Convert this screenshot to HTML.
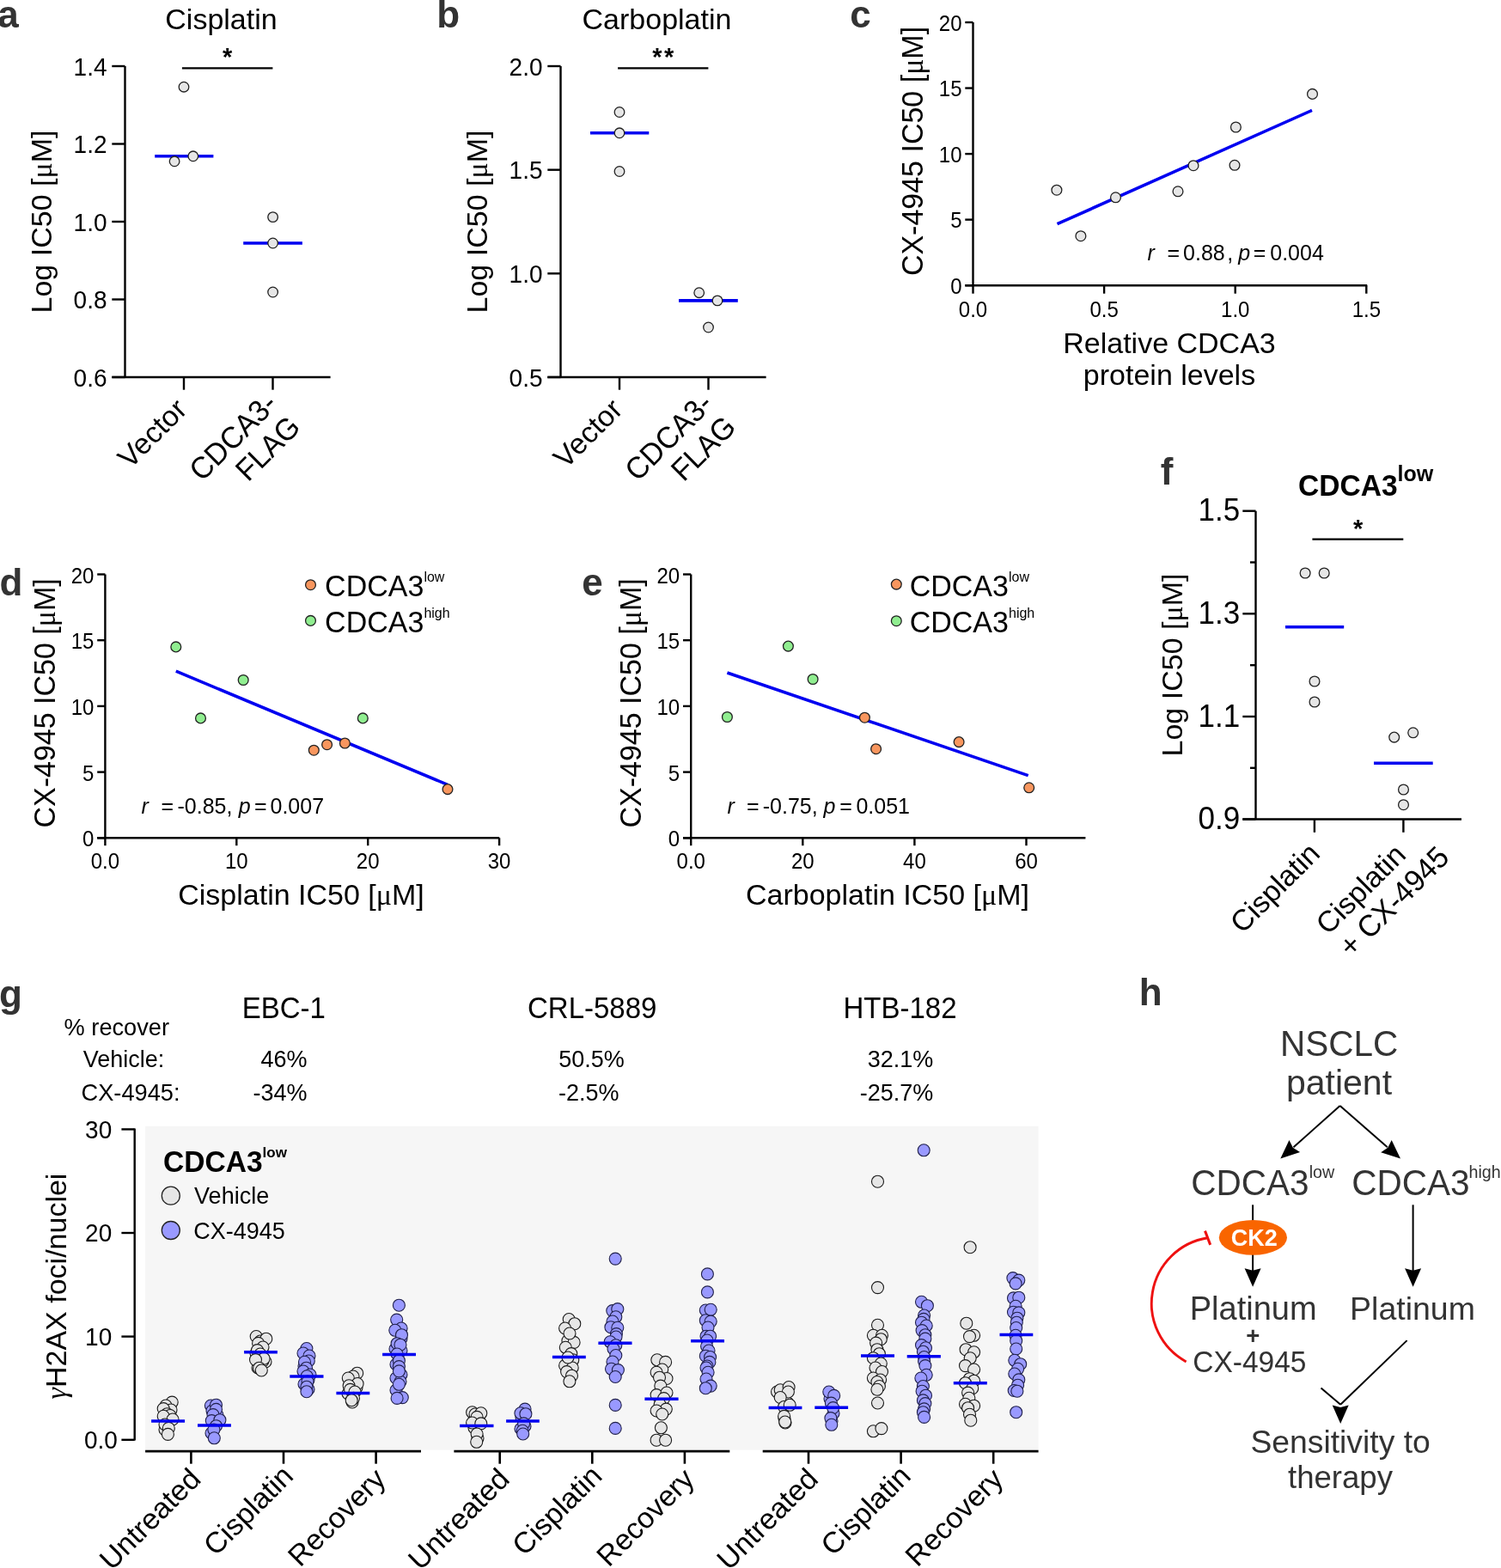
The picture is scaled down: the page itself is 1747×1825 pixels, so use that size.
<!DOCTYPE html>
<html><head><meta charset="utf-8"><title>Figure</title>
<style>html,body{margin:0;padding:0;background:#fff;} svg{display:block;} text{font-family:'Liberation Sans', Arial, Helvetica, sans-serif;}</style>
</head><body>
<svg width="1747" height="1825" viewBox="0 0 1747 1825">
<rect x="0" y="0" width="1747" height="1825" fill="#fff"/>
<text x="-2.70" y="32.30" font-size="44" text-anchor="start" font-weight="bold" fill="#333">a</text>
<text x="508.30" y="32.30" font-size="44" text-anchor="start" font-weight="bold" fill="#333">b</text>
<text x="989.30" y="31.80" font-size="44" text-anchor="start" font-weight="bold" fill="#333">c</text>
<text x="-0.50" y="692.80" font-size="44" text-anchor="start" font-weight="bold" fill="#333">d</text>
<text x="677.20" y="693.00" font-size="44" text-anchor="start" font-weight="bold" fill="#333">e</text>
<text x="1350.70" y="564.40" font-size="44" text-anchor="start" font-weight="bold" fill="#333">f</text>
<text x="-1.00" y="1171.50" font-size="44" text-anchor="start" font-weight="bold" fill="#333">g</text>
<text x="1325.80" y="1170.00" font-size="44" text-anchor="start" font-weight="bold" fill="#333">h</text>
<line x1="145.50" y1="77.00" x2="145.50" y2="439.00" stroke="#000" stroke-width="2.4" stroke-linecap="butt"/>
<line x1="130.30" y1="77.00" x2="145.50" y2="77.00" stroke="#000" stroke-width="2.4" stroke-linecap="butt"/>
<text transform="translate(124.50,87.60) scale(1,1.04)" font-size="28" text-anchor="end">1.4</text>
<line x1="130.30" y1="167.50" x2="145.50" y2="167.50" stroke="#000" stroke-width="2.4" stroke-linecap="butt"/>
<text transform="translate(124.50,178.10) scale(1,1.04)" font-size="28" text-anchor="end">1.2</text>
<line x1="130.30" y1="258.00" x2="145.50" y2="258.00" stroke="#000" stroke-width="2.4" stroke-linecap="butt"/>
<text transform="translate(124.50,268.60) scale(1,1.04)" font-size="28" text-anchor="end">1.0</text>
<line x1="130.30" y1="348.50" x2="145.50" y2="348.50" stroke="#000" stroke-width="2.4" stroke-linecap="butt"/>
<text transform="translate(124.50,359.10) scale(1,1.04)" font-size="28" text-anchor="end">0.8</text>
<line x1="130.30" y1="439.00" x2="145.50" y2="439.00" stroke="#000" stroke-width="2.4" stroke-linecap="butt"/>
<text transform="translate(124.50,449.60) scale(1,1.04)" font-size="28" text-anchor="end">0.6</text>
<line x1="130.30" y1="439.00" x2="384.60" y2="439.00" stroke="#000" stroke-width="2.4" stroke-linecap="butt"/>
<line x1="214.00" y1="439.00" x2="214.00" y2="453.70" stroke="#000" stroke-width="2.4" stroke-linecap="butt"/>
<line x1="317.50" y1="439.00" x2="317.50" y2="453.70" stroke="#000" stroke-width="2.4" stroke-linecap="butt"/>
<text x="257.50" y="34.30" font-size="34" text-anchor="middle">Cisplatin</text>
<line x1="211.90" y1="79.40" x2="317.40" y2="79.40" stroke="#000" stroke-width="2.2" stroke-linecap="butt"/>
<text x="264.60" y="76.20" font-size="29" text-anchor="middle" font-weight="bold">*</text>
<text transform="translate(60,258) rotate(-90)" font-size="34" text-anchor="middle">Log IC50 [<tspan font-family="'Liberation Serif', 'Times New Roman', serif">&#956;</tspan>M]</text>
<line x1="180.20" y1="181.80" x2="248.40" y2="181.80" stroke="#0000f0" stroke-width="3.6" stroke-linecap="butt"/>
<line x1="283.20" y1="283.00" x2="351.90" y2="283.00" stroke="#0000f0" stroke-width="3.6" stroke-linecap="butt"/>
<circle cx="214.00" cy="101.20" r="5.8" fill="#e6e6e6" stroke="#222" stroke-width="1.3"/>
<circle cx="203.10" cy="187.80" r="5.8" fill="#e6e6e6" stroke="#222" stroke-width="1.3"/>
<circle cx="224.80" cy="181.80" r="5.8" fill="#e6e6e6" stroke="#222" stroke-width="1.3"/>
<circle cx="317.60" cy="252.60" r="5.8" fill="#e6e6e6" stroke="#222" stroke-width="1.3"/>
<circle cx="317.60" cy="283.00" r="5.8" fill="#e6e6e6" stroke="#222" stroke-width="1.3"/>
<circle cx="317.60" cy="340.00" r="5.8" fill="#e6e6e6" stroke="#222" stroke-width="1.3"/>
<text transform="translate(219.5,478.5) rotate(-45)" font-size="34" text-anchor="end">Vector</text>
<text transform="translate(324.4,472.1) rotate(-45) scale(1,1.04)" font-size="34" text-anchor="end">CDCA3-</text>
<text transform="translate(351.4,499.1) rotate(-45) scale(1,1.04)" font-size="34" text-anchor="end">FLAG</text>
<line x1="652.50" y1="77.00" x2="652.50" y2="439.00" stroke="#000" stroke-width="2.4" stroke-linecap="butt"/>
<line x1="637.30" y1="77.00" x2="652.50" y2="77.00" stroke="#000" stroke-width="2.4" stroke-linecap="butt"/>
<text transform="translate(631.50,87.60) scale(1,1.04)" font-size="28" text-anchor="end">2.0</text>
<line x1="637.30" y1="197.67" x2="652.50" y2="197.67" stroke="#000" stroke-width="2.4" stroke-linecap="butt"/>
<text transform="translate(631.50,208.27) scale(1,1.04)" font-size="28" text-anchor="end">1.5</text>
<line x1="637.30" y1="318.33" x2="652.50" y2="318.33" stroke="#000" stroke-width="2.4" stroke-linecap="butt"/>
<text transform="translate(631.50,328.93) scale(1,1.04)" font-size="28" text-anchor="end">1.0</text>
<line x1="637.30" y1="439.00" x2="652.50" y2="439.00" stroke="#000" stroke-width="2.4" stroke-linecap="butt"/>
<text transform="translate(631.50,449.60) scale(1,1.04)" font-size="28" text-anchor="end">0.5</text>
<line x1="637.30" y1="439.00" x2="891.60" y2="439.00" stroke="#000" stroke-width="2.4" stroke-linecap="butt"/>
<line x1="721.00" y1="439.00" x2="721.00" y2="453.70" stroke="#000" stroke-width="2.4" stroke-linecap="butt"/>
<line x1="824.50" y1="439.00" x2="824.50" y2="453.70" stroke="#000" stroke-width="2.4" stroke-linecap="butt"/>
<text x="764.50" y="34.30" font-size="34" text-anchor="middle">Carboplatin</text>
<line x1="719.10" y1="79.40" x2="824.40" y2="79.40" stroke="#000" stroke-width="2.2" stroke-linecap="butt"/>
<text x="764.80" y="76.00" font-size="29" text-anchor="middle" font-weight="bold">*</text>
<text x="778.60" y="76.00" font-size="29" text-anchor="middle" font-weight="bold">*</text>
<text transform="translate(567,258) rotate(-90)" font-size="34" text-anchor="middle">Log IC50 [<tspan font-family="'Liberation Serif', 'Times New Roman', serif">&#956;</tspan>M]</text>
<line x1="687.00" y1="154.80" x2="755.30" y2="154.80" stroke="#0000f0" stroke-width="3.6" stroke-linecap="butt"/>
<line x1="790.00" y1="349.90" x2="858.80" y2="349.90" stroke="#0000f0" stroke-width="3.6" stroke-linecap="butt"/>
<circle cx="721.00" cy="130.50" r="5.8" fill="#e6e6e6" stroke="#222" stroke-width="1.3"/>
<circle cx="721.00" cy="154.80" r="5.8" fill="#e6e6e6" stroke="#222" stroke-width="1.3"/>
<circle cx="721.00" cy="199.50" r="5.8" fill="#e6e6e6" stroke="#222" stroke-width="1.3"/>
<circle cx="813.70" cy="340.70" r="5.8" fill="#e6e6e6" stroke="#222" stroke-width="1.3"/>
<circle cx="835.00" cy="349.90" r="5.8" fill="#e6e6e6" stroke="#222" stroke-width="1.3"/>
<circle cx="824.50" cy="381.00" r="5.8" fill="#e6e6e6" stroke="#222" stroke-width="1.3"/>
<text transform="translate(726.5,478.5) rotate(-45)" font-size="34" text-anchor="end">Vector</text>
<text transform="translate(831.4,472.1) rotate(-45) scale(1,1.04)" font-size="34" text-anchor="end">CDCA3-</text>
<text transform="translate(858.4,499.1) rotate(-45) scale(1,1.04)" font-size="34" text-anchor="end">FLAG</text>
<line x1="1132.50" y1="26.00" x2="1132.50" y2="332.20" stroke="#000" stroke-width="2.4" stroke-linecap="butt"/>
<line x1="1123.30" y1="332.20" x2="1132.50" y2="332.20" stroke="#000" stroke-width="2.4" stroke-linecap="butt"/>
<text transform="translate(1119.50,341.80) scale(1,1.04)" font-size="24" text-anchor="end">0</text>
<line x1="1123.30" y1="255.65" x2="1132.50" y2="255.65" stroke="#000" stroke-width="2.4" stroke-linecap="butt"/>
<text transform="translate(1119.50,265.25) scale(1,1.04)" font-size="24" text-anchor="end">5</text>
<line x1="1123.30" y1="179.10" x2="1132.50" y2="179.10" stroke="#000" stroke-width="2.4" stroke-linecap="butt"/>
<text transform="translate(1119.50,188.70) scale(1,1.04)" font-size="24" text-anchor="end">10</text>
<line x1="1123.30" y1="102.55" x2="1132.50" y2="102.55" stroke="#000" stroke-width="2.4" stroke-linecap="butt"/>
<text transform="translate(1119.50,112.15) scale(1,1.04)" font-size="24" text-anchor="end">15</text>
<line x1="1123.30" y1="26.00" x2="1132.50" y2="26.00" stroke="#000" stroke-width="2.4" stroke-linecap="butt"/>
<text transform="translate(1119.50,35.60) scale(1,1.04)" font-size="24" text-anchor="end">20</text>
<line x1="1123.30" y1="332.20" x2="1591.20" y2="332.20" stroke="#000" stroke-width="2.4" stroke-linecap="butt"/>
<line x1="1132.50" y1="332.20" x2="1132.50" y2="341.70" stroke="#000" stroke-width="2.4" stroke-linecap="butt"/>
<text transform="translate(1132.50,368.60) scale(1,1.04)" font-size="24" text-anchor="middle">0.0</text>
<line x1="1285.10" y1="332.20" x2="1285.10" y2="341.70" stroke="#000" stroke-width="2.4" stroke-linecap="butt"/>
<text transform="translate(1285.10,368.60) scale(1,1.04)" font-size="24" text-anchor="middle">0.5</text>
<line x1="1437.70" y1="332.20" x2="1437.70" y2="341.70" stroke="#000" stroke-width="2.4" stroke-linecap="butt"/>
<text transform="translate(1437.70,368.60) scale(1,1.04)" font-size="24" text-anchor="middle">1.0</text>
<line x1="1590.30" y1="332.20" x2="1590.30" y2="341.70" stroke="#000" stroke-width="2.4" stroke-linecap="butt"/>
<text transform="translate(1590.30,368.60) scale(1,1.04)" font-size="24" text-anchor="middle">1.5</text>
<text transform="translate(1074.4,176) rotate(-90) scale(1,1.04)" font-size="34" text-anchor="middle">CX-4945 IC50 [<tspan font-family="'Liberation Serif', 'Times New Roman', serif">&#956;</tspan>M]</text>
<text x="1361.00" y="411.20" font-size="34" text-anchor="middle">Relative CDCA3</text>
<text x="1361.00" y="448.00" font-size="34" text-anchor="middle">protein levels</text>
<line x1="1230.50" y1="260.70" x2="1527.00" y2="128.40" stroke="#0000f0" stroke-width="3.6" stroke-linecap="butt"/>
<circle cx="1229.90" cy="221.20" r="5.9" fill="#e6e6e6" stroke="#222" stroke-width="1.3"/>
<circle cx="1257.90" cy="274.70" r="5.9" fill="#e6e6e6" stroke="#222" stroke-width="1.3"/>
<circle cx="1298.50" cy="229.80" r="5.9" fill="#e6e6e6" stroke="#222" stroke-width="1.3"/>
<circle cx="1371.00" cy="222.80" r="5.9" fill="#e6e6e6" stroke="#222" stroke-width="1.3"/>
<circle cx="1389.00" cy="192.70" r="5.9" fill="#e6e6e6" stroke="#222" stroke-width="1.3"/>
<circle cx="1438.40" cy="148.00" r="5.9" fill="#e6e6e6" stroke="#222" stroke-width="1.3"/>
<circle cx="1437.00" cy="192.30" r="5.9" fill="#e6e6e6" stroke="#222" stroke-width="1.3"/>
<circle cx="1527.50" cy="109.40" r="5.9" fill="#e6e6e6" stroke="#222" stroke-width="1.3"/>
<text x="1335.58" y="303.20" font-size="25" text-anchor="start" style="font-style:italic">r</text>
<text transform="translate(1358.48,303.20) scale(1,1.04)" font-size="25" text-anchor="start">=</text>
<text transform="translate(1377.03,303.20) scale(1,1.04)" font-size="25" text-anchor="start">0.88</text>
<text transform="translate(1428.15,303.20) scale(1,1.04)" font-size="25" text-anchor="start">,</text>
<text x="1441.33" y="303.20" font-size="25" text-anchor="start" style="font-style:italic">p</text>
<text transform="translate(1458.78,303.20) scale(1,1.04)" font-size="25" text-anchor="start">=</text>
<text transform="translate(1478.23,303.20) scale(1,1.04)" font-size="25" text-anchor="start">0.004</text>
<line x1="122.40" y1="668.50" x2="122.40" y2="975.30" stroke="#000" stroke-width="2.4" stroke-linecap="butt"/>
<line x1="113.20" y1="975.30" x2="122.40" y2="975.30" stroke="#000" stroke-width="2.4" stroke-linecap="butt"/>
<text transform="translate(109.40,985.30) scale(1,1.04)" font-size="24" text-anchor="end">0</text>
<line x1="113.20" y1="898.60" x2="122.40" y2="898.60" stroke="#000" stroke-width="2.4" stroke-linecap="butt"/>
<text transform="translate(109.40,908.60) scale(1,1.04)" font-size="24" text-anchor="end">5</text>
<line x1="113.20" y1="821.90" x2="122.40" y2="821.90" stroke="#000" stroke-width="2.4" stroke-linecap="butt"/>
<text transform="translate(109.40,831.90) scale(1,1.04)" font-size="24" text-anchor="end">10</text>
<line x1="113.20" y1="745.20" x2="122.40" y2="745.20" stroke="#000" stroke-width="2.4" stroke-linecap="butt"/>
<text transform="translate(109.40,755.20) scale(1,1.04)" font-size="24" text-anchor="end">15</text>
<line x1="113.20" y1="668.50" x2="122.40" y2="668.50" stroke="#000" stroke-width="2.4" stroke-linecap="butt"/>
<text transform="translate(109.40,678.50) scale(1,1.04)" font-size="24" text-anchor="end">20</text>
<line x1="113.20" y1="975.30" x2="581.20" y2="975.30" stroke="#000" stroke-width="2.4" stroke-linecap="butt"/>
<line x1="122.40" y1="975.30" x2="122.40" y2="984.20" stroke="#000" stroke-width="2.4" stroke-linecap="butt"/>
<text transform="translate(122.40,1011.10) scale(1,1.04)" font-size="24" text-anchor="middle">0.0</text>
<line x1="275.30" y1="975.30" x2="275.30" y2="984.20" stroke="#000" stroke-width="2.4" stroke-linecap="butt"/>
<text transform="translate(275.30,1011.10) scale(1,1.04)" font-size="24" text-anchor="middle">10</text>
<line x1="428.20" y1="975.30" x2="428.20" y2="984.20" stroke="#000" stroke-width="2.4" stroke-linecap="butt"/>
<text transform="translate(428.20,1011.10) scale(1,1.04)" font-size="24" text-anchor="middle">20</text>
<line x1="581.10" y1="975.30" x2="581.10" y2="984.20" stroke="#000" stroke-width="2.4" stroke-linecap="butt"/>
<text transform="translate(581.10,1011.10) scale(1,1.04)" font-size="24" text-anchor="middle">30</text>
<text transform="translate(63.7,818.4) rotate(-90) scale(1,1.04)" font-size="34" text-anchor="middle">CX-4945 IC50 [<tspan font-family="'Liberation Serif', 'Times New Roman', serif">&#956;</tspan>M]</text>
<text x="350.50" y="1053.40" font-size="34" text-anchor="middle">Cisplatin IC50 [<tspan font-family="'Liberation Serif', 'Times New Roman', serif">&#956;</tspan>M]</text>
<circle cx="361.50" cy="680.70" r="5.9" fill="#f8965e" stroke="#222" stroke-width="1.3"/>
<circle cx="361.50" cy="722.40" r="5.9" fill="#90ee90" stroke="#222" stroke-width="1.3"/>
<text transform="translate(378.10,694.10) scale(1,1.04)" font-size="34" text-anchor="start">CDCA3</text>
<text x="493.40" y="676.90" font-size="16" text-anchor="start">low</text>
<text transform="translate(378.10,735.90) scale(1,1.04)" font-size="34" text-anchor="start">CDCA3</text>
<text x="493.40" y="718.70" font-size="16" text-anchor="start">high</text>
<line x1="204.80" y1="781.20" x2="521.00" y2="913.30" stroke="#0000f0" stroke-width="3.6" stroke-linecap="butt"/>
<circle cx="204.80" cy="752.90" r="5.9" fill="#90ee90" stroke="#222" stroke-width="1.3"/>
<circle cx="283.20" cy="791.50" r="5.9" fill="#90ee90" stroke="#222" stroke-width="1.3"/>
<circle cx="233.50" cy="835.90" r="5.9" fill="#90ee90" stroke="#222" stroke-width="1.3"/>
<circle cx="422.30" cy="835.90" r="5.9" fill="#90ee90" stroke="#222" stroke-width="1.3"/>
<circle cx="365.30" cy="873.20" r="5.9" fill="#f8965e" stroke="#222" stroke-width="1.3"/>
<circle cx="380.60" cy="866.70" r="5.9" fill="#f8965e" stroke="#222" stroke-width="1.3"/>
<circle cx="401.40" cy="865.00" r="5.9" fill="#f8965e" stroke="#222" stroke-width="1.3"/>
<circle cx="521.00" cy="918.60" r="5.9" fill="#f8965e" stroke="#222" stroke-width="1.3"/>
<text x="164.57" y="947.00" font-size="25" text-anchor="start" style="font-style:italic">r</text>
<text transform="translate(187.47,947.00) scale(1,1.04)" font-size="25" text-anchor="start">=</text>
<text transform="translate(206.50,947.00) scale(1,1.04)" font-size="25" text-anchor="start">-0.85</text>
<text transform="translate(263.55,947.00) scale(1,1.04)" font-size="25" text-anchor="start">,</text>
<text x="277.73" y="947.00" font-size="25" text-anchor="start" style="font-style:italic">p</text>
<text transform="translate(296.07,947.00) scale(1,1.04)" font-size="25" text-anchor="start">=</text>
<text transform="translate(314.52,947.00) scale(1,1.04)" font-size="25" text-anchor="start">0.007</text>
<line x1="804.20" y1="668.50" x2="804.20" y2="975.30" stroke="#000" stroke-width="2.4" stroke-linecap="butt"/>
<line x1="795.00" y1="975.30" x2="804.20" y2="975.30" stroke="#000" stroke-width="2.4" stroke-linecap="butt"/>
<text transform="translate(791.20,985.30) scale(1,1.04)" font-size="24" text-anchor="end">0</text>
<line x1="795.00" y1="898.60" x2="804.20" y2="898.60" stroke="#000" stroke-width="2.4" stroke-linecap="butt"/>
<text transform="translate(791.20,908.60) scale(1,1.04)" font-size="24" text-anchor="end">5</text>
<line x1="795.00" y1="821.90" x2="804.20" y2="821.90" stroke="#000" stroke-width="2.4" stroke-linecap="butt"/>
<text transform="translate(791.20,831.90) scale(1,1.04)" font-size="24" text-anchor="end">10</text>
<line x1="795.00" y1="745.20" x2="804.20" y2="745.20" stroke="#000" stroke-width="2.4" stroke-linecap="butt"/>
<text transform="translate(791.20,755.20) scale(1,1.04)" font-size="24" text-anchor="end">15</text>
<line x1="795.00" y1="668.50" x2="804.20" y2="668.50" stroke="#000" stroke-width="2.4" stroke-linecap="butt"/>
<text transform="translate(791.20,678.50) scale(1,1.04)" font-size="24" text-anchor="end">20</text>
<line x1="795.00" y1="975.30" x2="1263.40" y2="975.30" stroke="#000" stroke-width="2.4" stroke-linecap="butt"/>
<line x1="804.20" y1="975.30" x2="804.20" y2="984.20" stroke="#000" stroke-width="2.4" stroke-linecap="butt"/>
<text transform="translate(804.20,1011.10) scale(1,1.04)" font-size="24" text-anchor="middle">0.0</text>
<line x1="934.30" y1="975.30" x2="934.30" y2="984.20" stroke="#000" stroke-width="2.4" stroke-linecap="butt"/>
<text transform="translate(934.30,1011.10) scale(1,1.04)" font-size="24" text-anchor="middle">20</text>
<line x1="1064.40" y1="975.30" x2="1064.40" y2="984.20" stroke="#000" stroke-width="2.4" stroke-linecap="butt"/>
<text transform="translate(1064.40,1011.10) scale(1,1.04)" font-size="24" text-anchor="middle">40</text>
<line x1="1194.50" y1="975.30" x2="1194.50" y2="984.20" stroke="#000" stroke-width="2.4" stroke-linecap="butt"/>
<text transform="translate(1194.50,1011.10) scale(1,1.04)" font-size="24" text-anchor="middle">60</text>
<text transform="translate(745.5,818.4) rotate(-90) scale(1,1.04)" font-size="34" text-anchor="middle">CX-4945 IC50 [<tspan font-family="'Liberation Serif', 'Times New Roman', serif">&#956;</tspan>M]</text>
<text x="1033.00" y="1053.40" font-size="34" text-anchor="middle">Carboplatin IC50 [<tspan font-family="'Liberation Serif', 'Times New Roman', serif">&#956;</tspan>M]</text>
<circle cx="1043.30" cy="680.10" r="5.9" fill="#f8965e" stroke="#222" stroke-width="1.3"/>
<circle cx="1043.30" cy="722.70" r="5.9" fill="#90ee90" stroke="#222" stroke-width="1.3"/>
<text transform="translate(1058.70,694.10) scale(1,1.04)" font-size="34" text-anchor="start">CDCA3</text>
<text x="1174.00" y="676.90" font-size="16" text-anchor="start">low</text>
<text transform="translate(1058.70,735.90) scale(1,1.04)" font-size="34" text-anchor="start">CDCA3</text>
<text x="1174.00" y="718.70" font-size="16" text-anchor="start">high</text>
<line x1="846.40" y1="783.00" x2="1196.70" y2="902.60" stroke="#0000f0" stroke-width="3.6" stroke-linecap="butt"/>
<circle cx="846.40" cy="834.50" r="5.9" fill="#90ee90" stroke="#222" stroke-width="1.3"/>
<circle cx="917.40" cy="752.10" r="5.9" fill="#90ee90" stroke="#222" stroke-width="1.3"/>
<circle cx="946.10" cy="790.50" r="5.9" fill="#90ee90" stroke="#222" stroke-width="1.3"/>
<circle cx="1006.40" cy="835.20" r="5.9" fill="#f8965e" stroke="#222" stroke-width="1.3"/>
<circle cx="1019.60" cy="871.70" r="5.9" fill="#f8965e" stroke="#222" stroke-width="1.3"/>
<circle cx="1116.10" cy="863.60" r="5.9" fill="#f8965e" stroke="#222" stroke-width="1.3"/>
<circle cx="1197.70" cy="916.80" r="5.9" fill="#f8965e" stroke="#222" stroke-width="1.3"/>
<text x="846.48" y="946.80" font-size="25" text-anchor="start" style="font-style:italic">r</text>
<text transform="translate(868.98,946.80) scale(1,1.04)" font-size="25" text-anchor="start">=</text>
<text transform="translate(887.80,946.80) scale(1,1.04)" font-size="25" text-anchor="start">-0.75</text>
<text transform="translate(944.75,946.80) scale(1,1.04)" font-size="25" text-anchor="start">,</text>
<text x="958.42" y="946.80" font-size="25" text-anchor="start" style="font-style:italic">p</text>
<text transform="translate(977.27,946.80) scale(1,1.04)" font-size="25" text-anchor="start">=</text>
<text transform="translate(996.42,946.80) scale(1,1.04)" font-size="25" text-anchor="start">0.051</text>
<line x1="1461.50" y1="594.70" x2="1461.50" y2="953.50" stroke="#000" stroke-width="2.4" stroke-linecap="butt"/>
<line x1="1446.30" y1="594.70" x2="1461.50" y2="594.70" stroke="#000" stroke-width="2.4" stroke-linecap="butt"/>
<text transform="translate(1443.10,606.30) scale(1,1.04)" font-size="35" text-anchor="end">1.5</text>
<line x1="1446.30" y1="714.30" x2="1461.50" y2="714.30" stroke="#000" stroke-width="2.4" stroke-linecap="butt"/>
<text transform="translate(1443.10,725.90) scale(1,1.04)" font-size="35" text-anchor="end">1.3</text>
<line x1="1446.30" y1="834.00" x2="1461.50" y2="834.00" stroke="#000" stroke-width="2.4" stroke-linecap="butt"/>
<text transform="translate(1443.10,845.60) scale(1,1.04)" font-size="35" text-anchor="end">1.1</text>
<line x1="1446.30" y1="953.50" x2="1461.50" y2="953.50" stroke="#000" stroke-width="2.4" stroke-linecap="butt"/>
<text transform="translate(1443.10,965.10) scale(1,1.04)" font-size="35" text-anchor="end">0.9</text>
<line x1="1455.00" y1="654.50" x2="1461.50" y2="654.50" stroke="#000" stroke-width="2.4" stroke-linecap="butt"/>
<line x1="1455.00" y1="774.20" x2="1461.50" y2="774.20" stroke="#000" stroke-width="2.4" stroke-linecap="butt"/>
<line x1="1455.00" y1="893.80" x2="1461.50" y2="893.80" stroke="#000" stroke-width="2.4" stroke-linecap="butt"/>
<line x1="1446.30" y1="953.50" x2="1701.00" y2="953.50" stroke="#000" stroke-width="2.4" stroke-linecap="butt"/>
<line x1="1529.90" y1="953.50" x2="1529.90" y2="968.80" stroke="#000" stroke-width="2.4" stroke-linecap="butt"/>
<line x1="1633.40" y1="953.50" x2="1633.40" y2="968.80" stroke="#000" stroke-width="2.4" stroke-linecap="butt"/>
<text transform="translate(1511.1,576.5) scale(0.933,1)" font-size="36" font-weight="bold">CDCA3</text>
<text x="1626.50" y="559.60" font-size="25" text-anchor="start" font-weight="bold">low</text>
<line x1="1527.40" y1="627.60" x2="1633.30" y2="627.60" stroke="#000" stroke-width="2.2" stroke-linecap="butt"/>
<text x="1580.60" y="624.80" font-size="29" text-anchor="middle" font-weight="bold">*</text>
<text transform="translate(1375.5,774) rotate(-90)" font-size="34" text-anchor="middle">Log IC50 [<tspan font-family="'Liberation Serif', 'Times New Roman', serif">&#956;</tspan>M]</text>
<line x1="1496.00" y1="729.80" x2="1564.20" y2="729.80" stroke="#0000f0" stroke-width="3.6" stroke-linecap="butt"/>
<line x1="1599.00" y1="888.30" x2="1667.70" y2="888.30" stroke="#0000f0" stroke-width="3.6" stroke-linecap="butt"/>
<circle cx="1519.10" cy="667.00" r="5.9" fill="#e6e6e6" stroke="#222" stroke-width="1.3"/>
<circle cx="1541.20" cy="667.00" r="5.9" fill="#e6e6e6" stroke="#222" stroke-width="1.3"/>
<circle cx="1530.00" cy="793.00" r="5.9" fill="#e6e6e6" stroke="#222" stroke-width="1.3"/>
<circle cx="1530.00" cy="817.00" r="5.9" fill="#e6e6e6" stroke="#222" stroke-width="1.3"/>
<circle cx="1622.70" cy="858.10" r="5.9" fill="#e6e6e6" stroke="#222" stroke-width="1.3"/>
<circle cx="1644.70" cy="852.80" r="5.9" fill="#e6e6e6" stroke="#222" stroke-width="1.3"/>
<circle cx="1633.50" cy="919.00" r="5.9" fill="#e6e6e6" stroke="#222" stroke-width="1.3"/>
<circle cx="1633.50" cy="936.70" r="5.9" fill="#e6e6e6" stroke="#222" stroke-width="1.3"/>
<text transform="translate(1538.1,995.5) rotate(-45)" font-size="34" text-anchor="end">Cisplatin</text>
<text transform="translate(1638,997) rotate(-45)" font-size="34" text-anchor="end">Cisplatin</text>
<text transform="translate(1688.5,1000) rotate(-45) scale(1,1.04)" font-size="34" text-anchor="end">+ CX-4945</text>
<text transform="translate(330.30,1185.40) scale(1,1.04)" font-size="33" text-anchor="middle">EBC-1</text>
<text transform="translate(689.20,1185.40) scale(1,1.04)" font-size="33" text-anchor="middle">CRL-5889</text>
<text transform="translate(1047.50,1185.40) scale(1,1.04)" font-size="33" text-anchor="middle">HTB-182</text>
<text x="74.60" y="1205.10" font-size="27.2" text-anchor="start">% recover</text>
<text x="96.80" y="1241.50" font-size="27" text-anchor="start">Vehicle:</text>
<text transform="translate(94.60,1281.40) scale(1,1.04)" font-size="27.2" text-anchor="start">CX-4945:</text>
<text transform="translate(357.40,1241.50) scale(1,1.04)" font-size="27" text-anchor="end">46%</text>
<text transform="translate(357.40,1281.40) scale(1,1.04)" font-size="27" text-anchor="end">-34%</text>
<text transform="translate(650.20,1241.50) scale(1,1.04)" font-size="27" text-anchor="start">50.5%</text>
<text transform="translate(650.00,1281.40) scale(1,1.04)" font-size="27" text-anchor="start">-2.5%</text>
<text transform="translate(1086.20,1241.50) scale(1,1.04)" font-size="27" text-anchor="end">32.1%</text>
<text transform="translate(1086.20,1281.40) scale(1,1.04)" font-size="27" text-anchor="end">-25.7%</text>
<rect x="169.1" y="1310.8" width="1039.4" height="376.8" fill="#f6f6f6"/>
<line x1="156.70" y1="1313.60" x2="156.70" y2="1676.60" stroke="#000" stroke-width="2.4" stroke-linecap="butt"/>
<line x1="141.40" y1="1314.40" x2="156.70" y2="1314.40" stroke="#000" stroke-width="2.4" stroke-linecap="butt"/>
<text transform="translate(130.20,1324.80) scale(1,1.04)" font-size="28" text-anchor="end">30</text>
<line x1="141.40" y1="1435.00" x2="156.70" y2="1435.00" stroke="#000" stroke-width="2.4" stroke-linecap="butt"/>
<text transform="translate(130.20,1445.40) scale(1,1.04)" font-size="28" text-anchor="end">20</text>
<line x1="141.40" y1="1555.60" x2="156.70" y2="1555.60" stroke="#000" stroke-width="2.4" stroke-linecap="butt"/>
<text transform="translate(130.20,1566.00) scale(1,1.04)" font-size="28" text-anchor="end">10</text>
<line x1="141.40" y1="1675.80" x2="156.70" y2="1675.80" stroke="#000" stroke-width="2.4" stroke-linecap="butt"/>
<text transform="translate(136.90,1686.20) scale(1,1.04)" font-size="28" text-anchor="end">0.0</text>
<text transform="translate(76.5,1497) rotate(-90)" font-size="34" text-anchor="middle"><tspan font-family="'Liberation Serif', 'Times New Roman', serif" font-style="italic">&#947;</tspan>H2AX foci/nuclei</text>
<text transform="translate(190.0,1364.1) scale(0.933,1)" font-size="36" font-weight="bold">CDCA3</text>
<text x="305.60" y="1347.00" font-size="17" text-anchor="start" font-weight="bold">low</text>
<circle cx="198.80" cy="1391.70" r="10.5" fill="#e6e6e6" stroke="#222" stroke-width="1.3"/>
<circle cx="198.80" cy="1432.00" r="10.5" fill="#9999ff" stroke="#222" stroke-width="1.3"/>
<text x="226.10" y="1401.30" font-size="27" text-anchor="start">Vehicle</text>
<text transform="translate(225.30,1441.60) scale(1,1.04)" font-size="27" text-anchor="start">CX-4945</text>
<line x1="169.10" y1="1689.10" x2="490.00" y2="1689.10" stroke="#000" stroke-width="2.6" stroke-linecap="butt"/>
<line x1="222.40" y1="1689.10" x2="222.40" y2="1703.70" stroke="#000" stroke-width="2.6" stroke-linecap="butt"/>
<text transform="translate(235.6,1723.4) rotate(-45)" font-size="34" text-anchor="end">Untreated</text>
<line x1="330.00" y1="1689.10" x2="330.00" y2="1703.70" stroke="#000" stroke-width="2.6" stroke-linecap="butt"/>
<text transform="translate(343.2,1720.0) rotate(-45)" font-size="34" text-anchor="end">Cisplatin</text>
<line x1="437.60" y1="1689.10" x2="437.60" y2="1703.70" stroke="#000" stroke-width="2.6" stroke-linecap="butt"/>
<text transform="translate(450.8,1723.4) rotate(-45)" font-size="34" text-anchor="end">Recovery</text>
<line x1="528.40" y1="1689.10" x2="849.30" y2="1689.10" stroke="#000" stroke-width="2.6" stroke-linecap="butt"/>
<line x1="581.70" y1="1689.10" x2="581.70" y2="1703.70" stroke="#000" stroke-width="2.6" stroke-linecap="butt"/>
<text transform="translate(594.9,1723.4) rotate(-45)" font-size="34" text-anchor="end">Untreated</text>
<line x1="689.30" y1="1689.10" x2="689.30" y2="1703.70" stroke="#000" stroke-width="2.6" stroke-linecap="butt"/>
<text transform="translate(702.5,1720.0) rotate(-45)" font-size="34" text-anchor="end">Cisplatin</text>
<line x1="796.90" y1="1689.10" x2="796.90" y2="1703.70" stroke="#000" stroke-width="2.6" stroke-linecap="butt"/>
<text transform="translate(810.1,1723.4) rotate(-45)" font-size="34" text-anchor="end">Recovery</text>
<line x1="887.70" y1="1689.10" x2="1208.60" y2="1689.10" stroke="#000" stroke-width="2.6" stroke-linecap="butt"/>
<line x1="941.00" y1="1689.10" x2="941.00" y2="1703.70" stroke="#000" stroke-width="2.6" stroke-linecap="butt"/>
<text transform="translate(954.2,1723.4) rotate(-45)" font-size="34" text-anchor="end">Untreated</text>
<line x1="1048.60" y1="1689.10" x2="1048.60" y2="1703.70" stroke="#000" stroke-width="2.6" stroke-linecap="butt"/>
<text transform="translate(1061.8,1720.0) rotate(-45)" font-size="34" text-anchor="end">Cisplatin</text>
<line x1="1156.20" y1="1689.10" x2="1156.20" y2="1703.70" stroke="#000" stroke-width="2.6" stroke-linecap="butt"/>
<text transform="translate(1169.4,1723.4) rotate(-45)" font-size="34" text-anchor="end">Recovery</text>
<circle cx="200.20" cy="1632.10" r="7.0" fill="#e6e6e6" stroke="#1a1a1a" stroke-width="1.1"/>
<circle cx="193.00" cy="1636.00" r="7.0" fill="#e6e6e6" stroke="#1a1a1a" stroke-width="1.1"/>
<circle cx="199.00" cy="1641.00" r="7.0" fill="#e6e6e6" stroke="#1a1a1a" stroke-width="1.1"/>
<circle cx="196.00" cy="1655.00" r="7.0" fill="#e6e6e6" stroke="#1a1a1a" stroke-width="1.1"/>
<circle cx="192.00" cy="1664.00" r="7.0" fill="#e6e6e6" stroke="#1a1a1a" stroke-width="1.1"/>
<circle cx="190.20" cy="1639.60" r="7.0" fill="#e6e6e6" stroke="#1a1a1a" stroke-width="1.1"/>
<circle cx="194.50" cy="1645.70" r="7.0" fill="#e6e6e6" stroke="#1a1a1a" stroke-width="1.1"/>
<circle cx="198.00" cy="1647.50" r="7.0" fill="#e6e6e6" stroke="#1a1a1a" stroke-width="1.1"/>
<circle cx="190.20" cy="1648.30" r="7.0" fill="#e6e6e6" stroke="#1a1a1a" stroke-width="1.1"/>
<circle cx="201.00" cy="1652.00" r="7.0" fill="#e6e6e6" stroke="#1a1a1a" stroke-width="1.1"/>
<circle cx="192.00" cy="1658.00" r="7.0" fill="#e6e6e6" stroke="#1a1a1a" stroke-width="1.1"/>
<circle cx="196.30" cy="1662.40" r="7.0" fill="#e6e6e6" stroke="#1a1a1a" stroke-width="1.1"/>
<circle cx="195.40" cy="1669.40" r="7.0" fill="#e6e6e6" stroke="#1a1a1a" stroke-width="1.1"/>
<circle cx="245.40" cy="1636.00" r="7.0" fill="#9999ff" stroke="#20204a" stroke-width="1.1"/>
<circle cx="247.00" cy="1642.00" r="7.0" fill="#9999ff" stroke="#20204a" stroke-width="1.1"/>
<circle cx="253.00" cy="1647.00" r="7.0" fill="#9999ff" stroke="#20204a" stroke-width="1.1"/>
<circle cx="250.00" cy="1656.00" r="7.0" fill="#9999ff" stroke="#20204a" stroke-width="1.1"/>
<circle cx="246.00" cy="1668.00" r="7.0" fill="#9999ff" stroke="#20204a" stroke-width="1.1"/>
<circle cx="251.50" cy="1635.20" r="7.0" fill="#9999ff" stroke="#20204a" stroke-width="1.1"/>
<circle cx="251.50" cy="1640.40" r="7.0" fill="#9999ff" stroke="#20204a" stroke-width="1.1"/>
<circle cx="248.00" cy="1646.60" r="7.0" fill="#9999ff" stroke="#20204a" stroke-width="1.1"/>
<circle cx="246.30" cy="1653.60" r="7.0" fill="#9999ff" stroke="#20204a" stroke-width="1.1"/>
<circle cx="255.90" cy="1652.70" r="7.0" fill="#9999ff" stroke="#20204a" stroke-width="1.1"/>
<circle cx="251.50" cy="1659.70" r="7.0" fill="#9999ff" stroke="#20204a" stroke-width="1.1"/>
<circle cx="248.90" cy="1664.10" r="7.0" fill="#9999ff" stroke="#20204a" stroke-width="1.1"/>
<circle cx="249.30" cy="1673.80" r="7.0" fill="#9999ff" stroke="#20204a" stroke-width="1.1"/>
<circle cx="298.20" cy="1555.50" r="7.0" fill="#e6e6e6" stroke="#1a1a1a" stroke-width="1.1"/>
<circle cx="303.00" cy="1561.00" r="7.0" fill="#e6e6e6" stroke="#1a1a1a" stroke-width="1.1"/>
<circle cx="298.00" cy="1575.00" r="7.0" fill="#e6e6e6" stroke="#1a1a1a" stroke-width="1.1"/>
<circle cx="309.00" cy="1585.00" r="7.0" fill="#e6e6e6" stroke="#1a1a1a" stroke-width="1.1"/>
<circle cx="303.00" cy="1588.00" r="7.0" fill="#e6e6e6" stroke="#1a1a1a" stroke-width="1.1"/>
<circle cx="306.00" cy="1584.00" r="7.0" fill="#e6e6e6" stroke="#1a1a1a" stroke-width="1.1"/>
<circle cx="300.00" cy="1592.00" r="7.0" fill="#e6e6e6" stroke="#1a1a1a" stroke-width="1.1"/>
<circle cx="309.80" cy="1558.20" r="7.0" fill="#e6e6e6" stroke="#1a1a1a" stroke-width="1.1"/>
<circle cx="300.60" cy="1563.40" r="7.0" fill="#e6e6e6" stroke="#1a1a1a" stroke-width="1.1"/>
<circle cx="306.00" cy="1568.00" r="7.0" fill="#e6e6e6" stroke="#1a1a1a" stroke-width="1.1"/>
<circle cx="299.50" cy="1571.60" r="7.0" fill="#e6e6e6" stroke="#1a1a1a" stroke-width="1.1"/>
<circle cx="303.00" cy="1576.00" r="7.0" fill="#e6e6e6" stroke="#1a1a1a" stroke-width="1.1"/>
<circle cx="307.10" cy="1581.20" r="7.0" fill="#e6e6e6" stroke="#1a1a1a" stroke-width="1.1"/>
<circle cx="297.50" cy="1582.60" r="7.0" fill="#e6e6e6" stroke="#1a1a1a" stroke-width="1.1"/>
<circle cx="301.60" cy="1592.20" r="7.0" fill="#e6e6e6" stroke="#1a1a1a" stroke-width="1.1"/>
<circle cx="304.30" cy="1595.00" r="7.0" fill="#e6e6e6" stroke="#1a1a1a" stroke-width="1.1"/>
<circle cx="356.90" cy="1569.50" r="7.0" fill="#9999ff" stroke="#20204a" stroke-width="1.1"/>
<circle cx="353.00" cy="1575.00" r="7.0" fill="#9999ff" stroke="#20204a" stroke-width="1.1"/>
<circle cx="360.00" cy="1578.00" r="7.0" fill="#9999ff" stroke="#20204a" stroke-width="1.1"/>
<circle cx="354.00" cy="1590.00" r="7.0" fill="#9999ff" stroke="#20204a" stroke-width="1.1"/>
<circle cx="359.00" cy="1606.00" r="7.0" fill="#9999ff" stroke="#20204a" stroke-width="1.1"/>
<circle cx="354.00" cy="1611.00" r="7.0" fill="#9999ff" stroke="#20204a" stroke-width="1.1"/>
<circle cx="359.00" cy="1617.00" r="7.0" fill="#9999ff" stroke="#20204a" stroke-width="1.1"/>
<circle cx="359.30" cy="1584.00" r="7.0" fill="#9999ff" stroke="#20204a" stroke-width="1.1"/>
<circle cx="354.50" cy="1585.30" r="7.0" fill="#9999ff" stroke="#20204a" stroke-width="1.1"/>
<circle cx="356.50" cy="1592.20" r="7.0" fill="#9999ff" stroke="#20204a" stroke-width="1.1"/>
<circle cx="353.00" cy="1596.00" r="7.0" fill="#9999ff" stroke="#20204a" stroke-width="1.1"/>
<circle cx="361.00" cy="1600.00" r="7.0" fill="#9999ff" stroke="#20204a" stroke-width="1.1"/>
<circle cx="357.20" cy="1601.80" r="7.0" fill="#9999ff" stroke="#20204a" stroke-width="1.1"/>
<circle cx="358.00" cy="1608.00" r="7.0" fill="#9999ff" stroke="#20204a" stroke-width="1.1"/>
<circle cx="356.90" cy="1614.20" r="7.0" fill="#9999ff" stroke="#20204a" stroke-width="1.1"/>
<circle cx="356.90" cy="1619.70" r="7.0" fill="#9999ff" stroke="#20204a" stroke-width="1.1"/>
<circle cx="415.70" cy="1598.20" r="7.0" fill="#e6e6e6" stroke="#1a1a1a" stroke-width="1.1"/>
<circle cx="411.00" cy="1602.00" r="7.0" fill="#e6e6e6" stroke="#1a1a1a" stroke-width="1.1"/>
<circle cx="415.00" cy="1615.00" r="7.0" fill="#e6e6e6" stroke="#1a1a1a" stroke-width="1.1"/>
<circle cx="405.00" cy="1622.00" r="7.0" fill="#e6e6e6" stroke="#1a1a1a" stroke-width="1.1"/>
<circle cx="410.00" cy="1632.00" r="7.0" fill="#e6e6e6" stroke="#1a1a1a" stroke-width="1.1"/>
<circle cx="405.30" cy="1604.00" r="7.0" fill="#e6e6e6" stroke="#1a1a1a" stroke-width="1.1"/>
<circle cx="416.10" cy="1610.50" r="7.0" fill="#e6e6e6" stroke="#1a1a1a" stroke-width="1.1"/>
<circle cx="406.10" cy="1612.80" r="7.0" fill="#e6e6e6" stroke="#1a1a1a" stroke-width="1.1"/>
<circle cx="407.60" cy="1617.40" r="7.0" fill="#e6e6e6" stroke="#1a1a1a" stroke-width="1.1"/>
<circle cx="413.00" cy="1620.00" r="7.0" fill="#e6e6e6" stroke="#1a1a1a" stroke-width="1.1"/>
<circle cx="411.50" cy="1627.40" r="7.0" fill="#e6e6e6" stroke="#1a1a1a" stroke-width="1.1"/>
<circle cx="409.20" cy="1629.70" r="7.0" fill="#e6e6e6" stroke="#1a1a1a" stroke-width="1.1"/>
<circle cx="464.40" cy="1519.20" r="7.0" fill="#9999ff" stroke="#20204a" stroke-width="1.1"/>
<circle cx="467.00" cy="1558.00" r="7.0" fill="#9999ff" stroke="#20204a" stroke-width="1.1"/>
<circle cx="460.00" cy="1570.00" r="7.0" fill="#9999ff" stroke="#20204a" stroke-width="1.1"/>
<circle cx="467.00" cy="1572.00" r="7.0" fill="#9999ff" stroke="#20204a" stroke-width="1.1"/>
<circle cx="461.00" cy="1588.00" r="7.0" fill="#9999ff" stroke="#20204a" stroke-width="1.1"/>
<circle cx="467.00" cy="1600.00" r="7.0" fill="#9999ff" stroke="#20204a" stroke-width="1.1"/>
<circle cx="461.00" cy="1604.00" r="7.0" fill="#9999ff" stroke="#20204a" stroke-width="1.1"/>
<circle cx="466.00" cy="1608.00" r="7.0" fill="#9999ff" stroke="#20204a" stroke-width="1.1"/>
<circle cx="461.00" cy="1618.00" r="7.0" fill="#9999ff" stroke="#20204a" stroke-width="1.1"/>
<circle cx="461.70" cy="1536.10" r="7.0" fill="#9999ff" stroke="#20204a" stroke-width="1.1"/>
<circle cx="467.10" cy="1546.00" r="7.0" fill="#9999ff" stroke="#20204a" stroke-width="1.1"/>
<circle cx="459.80" cy="1548.30" r="7.0" fill="#9999ff" stroke="#20204a" stroke-width="1.1"/>
<circle cx="467.50" cy="1553.70" r="7.0" fill="#9999ff" stroke="#20204a" stroke-width="1.1"/>
<circle cx="462.10" cy="1563.70" r="7.0" fill="#9999ff" stroke="#20204a" stroke-width="1.1"/>
<circle cx="466.00" cy="1565.20" r="7.0" fill="#9999ff" stroke="#20204a" stroke-width="1.1"/>
<circle cx="462.10" cy="1576.00" r="7.0" fill="#9999ff" stroke="#20204a" stroke-width="1.1"/>
<circle cx="464.40" cy="1583.70" r="7.0" fill="#9999ff" stroke="#20204a" stroke-width="1.1"/>
<circle cx="464.40" cy="1590.60" r="7.0" fill="#9999ff" stroke="#20204a" stroke-width="1.1"/>
<circle cx="464.40" cy="1595.90" r="7.0" fill="#9999ff" stroke="#20204a" stroke-width="1.1"/>
<circle cx="464.40" cy="1611.30" r="7.0" fill="#9999ff" stroke="#20204a" stroke-width="1.1"/>
<circle cx="468.30" cy="1626.60" r="7.0" fill="#9999ff" stroke="#20204a" stroke-width="1.1"/>
<circle cx="462.10" cy="1627.40" r="7.0" fill="#9999ff" stroke="#20204a" stroke-width="1.1"/>
<circle cx="549.60" cy="1643.80" r="7.0" fill="#e6e6e6" stroke="#1a1a1a" stroke-width="1.1"/>
<circle cx="553.00" cy="1646.00" r="7.0" fill="#e6e6e6" stroke="#1a1a1a" stroke-width="1.1"/>
<circle cx="557.00" cy="1652.00" r="7.0" fill="#e6e6e6" stroke="#1a1a1a" stroke-width="1.1"/>
<circle cx="552.00" cy="1662.00" r="7.0" fill="#e6e6e6" stroke="#1a1a1a" stroke-width="1.1"/>
<circle cx="556.00" cy="1674.00" r="7.0" fill="#e6e6e6" stroke="#1a1a1a" stroke-width="1.1"/>
<circle cx="559.80" cy="1644.80" r="7.0" fill="#e6e6e6" stroke="#1a1a1a" stroke-width="1.1"/>
<circle cx="555.10" cy="1649.40" r="7.0" fill="#e6e6e6" stroke="#1a1a1a" stroke-width="1.1"/>
<circle cx="549.60" cy="1656.00" r="7.0" fill="#e6e6e6" stroke="#1a1a1a" stroke-width="1.1"/>
<circle cx="559.80" cy="1656.90" r="7.0" fill="#e6e6e6" stroke="#1a1a1a" stroke-width="1.1"/>
<circle cx="555.10" cy="1669.00" r="7.0" fill="#e6e6e6" stroke="#1a1a1a" stroke-width="1.1"/>
<circle cx="554.70" cy="1678.30" r="7.0" fill="#e6e6e6" stroke="#1a1a1a" stroke-width="1.1"/>
<circle cx="611.00" cy="1640.10" r="7.0" fill="#9999ff" stroke="#20204a" stroke-width="1.1"/>
<circle cx="607.00" cy="1650.00" r="7.0" fill="#9999ff" stroke="#20204a" stroke-width="1.1"/>
<circle cx="611.00" cy="1660.00" r="7.0" fill="#9999ff" stroke="#20204a" stroke-width="1.1"/>
<circle cx="606.00" cy="1663.00" r="7.0" fill="#9999ff" stroke="#20204a" stroke-width="1.1"/>
<circle cx="605.90" cy="1644.80" r="7.0" fill="#9999ff" stroke="#20204a" stroke-width="1.1"/>
<circle cx="611.90" cy="1645.70" r="7.0" fill="#9999ff" stroke="#20204a" stroke-width="1.1"/>
<circle cx="609.60" cy="1656.90" r="7.0" fill="#9999ff" stroke="#20204a" stroke-width="1.1"/>
<circle cx="608.20" cy="1665.30" r="7.0" fill="#9999ff" stroke="#20204a" stroke-width="1.1"/>
<circle cx="608.70" cy="1669.00" r="7.0" fill="#9999ff" stroke="#20204a" stroke-width="1.1"/>
<circle cx="662.20" cy="1535.50" r="7.0" fill="#e6e6e6" stroke="#1a1a1a" stroke-width="1.1"/>
<circle cx="668.80" cy="1540.70" r="7.0" fill="#e6e6e6" stroke="#1a1a1a" stroke-width="1.1"/>
<circle cx="657.60" cy="1546.00" r="7.0" fill="#e6e6e6" stroke="#1a1a1a" stroke-width="1.1"/>
<circle cx="660.90" cy="1560.50" r="7.0" fill="#e6e6e6" stroke="#1a1a1a" stroke-width="1.1"/>
<circle cx="668.10" cy="1562.40" r="7.0" fill="#e6e6e6" stroke="#1a1a1a" stroke-width="1.1"/>
<circle cx="658.30" cy="1568.30" r="7.0" fill="#e6e6e6" stroke="#1a1a1a" stroke-width="1.1"/>
<circle cx="664.80" cy="1575.60" r="7.0" fill="#e6e6e6" stroke="#1a1a1a" stroke-width="1.1"/>
<circle cx="666.80" cy="1582.80" r="7.0" fill="#e6e6e6" stroke="#1a1a1a" stroke-width="1.1"/>
<circle cx="657.60" cy="1589.40" r="7.0" fill="#e6e6e6" stroke="#1a1a1a" stroke-width="1.1"/>
<circle cx="666.20" cy="1592.00" r="7.0" fill="#e6e6e6" stroke="#1a1a1a" stroke-width="1.1"/>
<circle cx="659.60" cy="1596.60" r="7.0" fill="#e6e6e6" stroke="#1a1a1a" stroke-width="1.1"/>
<circle cx="665.50" cy="1601.20" r="7.0" fill="#e6e6e6" stroke="#1a1a1a" stroke-width="1.1"/>
<circle cx="662.90" cy="1607.80" r="7.0" fill="#e6e6e6" stroke="#1a1a1a" stroke-width="1.1"/>
<circle cx="663.00" cy="1552.00" r="7.0" fill="#e6e6e6" stroke="#1a1a1a" stroke-width="1.1"/>
<circle cx="661.00" cy="1580.00" r="7.0" fill="#e6e6e6" stroke="#1a1a1a" stroke-width="1.1"/>
<circle cx="716.20" cy="1465.10" r="7.0" fill="#9999ff" stroke="#20204a" stroke-width="1.1"/>
<circle cx="712.80" cy="1525.60" r="7.0" fill="#9999ff" stroke="#20204a" stroke-width="1.1"/>
<circle cx="718.80" cy="1523.60" r="7.0" fill="#9999ff" stroke="#20204a" stroke-width="1.1"/>
<circle cx="716.80" cy="1532.80" r="7.0" fill="#9999ff" stroke="#20204a" stroke-width="1.1"/>
<circle cx="713.00" cy="1538.00" r="7.0" fill="#9999ff" stroke="#20204a" stroke-width="1.1"/>
<circle cx="710.90" cy="1544.70" r="7.0" fill="#9999ff" stroke="#20204a" stroke-width="1.1"/>
<circle cx="718.80" cy="1545.30" r="7.0" fill="#9999ff" stroke="#20204a" stroke-width="1.1"/>
<circle cx="717.40" cy="1552.60" r="7.0" fill="#9999ff" stroke="#20204a" stroke-width="1.1"/>
<circle cx="717.00" cy="1556.00" r="7.0" fill="#9999ff" stroke="#20204a" stroke-width="1.1"/>
<circle cx="710.20" cy="1561.80" r="7.0" fill="#9999ff" stroke="#20204a" stroke-width="1.1"/>
<circle cx="716.80" cy="1565.70" r="7.0" fill="#9999ff" stroke="#20204a" stroke-width="1.1"/>
<circle cx="714.00" cy="1570.00" r="7.0" fill="#9999ff" stroke="#20204a" stroke-width="1.1"/>
<circle cx="716.80" cy="1577.50" r="7.0" fill="#9999ff" stroke="#20204a" stroke-width="1.1"/>
<circle cx="713.00" cy="1585.00" r="7.0" fill="#9999ff" stroke="#20204a" stroke-width="1.1"/>
<circle cx="711.50" cy="1593.30" r="7.0" fill="#9999ff" stroke="#20204a" stroke-width="1.1"/>
<circle cx="719.40" cy="1594.60" r="7.0" fill="#9999ff" stroke="#20204a" stroke-width="1.1"/>
<circle cx="716.20" cy="1602.50" r="7.0" fill="#9999ff" stroke="#20204a" stroke-width="1.1"/>
<circle cx="716.20" cy="1635.40" r="7.0" fill="#9999ff" stroke="#20204a" stroke-width="1.1"/>
<circle cx="716.20" cy="1662.40" r="7.0" fill="#9999ff" stroke="#20204a" stroke-width="1.1"/>
<circle cx="764.80" cy="1582.80" r="7.0" fill="#e6e6e6" stroke="#1a1a1a" stroke-width="1.1"/>
<circle cx="774.60" cy="1585.40" r="7.0" fill="#e6e6e6" stroke="#1a1a1a" stroke-width="1.1"/>
<circle cx="770.70" cy="1594.00" r="7.0" fill="#e6e6e6" stroke="#1a1a1a" stroke-width="1.1"/>
<circle cx="764.10" cy="1597.30" r="7.0" fill="#e6e6e6" stroke="#1a1a1a" stroke-width="1.1"/>
<circle cx="776.00" cy="1604.50" r="7.0" fill="#e6e6e6" stroke="#1a1a1a" stroke-width="1.1"/>
<circle cx="767.50" cy="1603.20" r="7.0" fill="#e6e6e6" stroke="#1a1a1a" stroke-width="1.1"/>
<circle cx="768.80" cy="1613.10" r="7.0" fill="#e6e6e6" stroke="#1a1a1a" stroke-width="1.1"/>
<circle cx="764.10" cy="1623.60" r="7.0" fill="#e6e6e6" stroke="#1a1a1a" stroke-width="1.1"/>
<circle cx="776.00" cy="1621.00" r="7.0" fill="#e6e6e6" stroke="#1a1a1a" stroke-width="1.1"/>
<circle cx="772.70" cy="1627.60" r="7.0" fill="#e6e6e6" stroke="#1a1a1a" stroke-width="1.1"/>
<circle cx="768.10" cy="1634.80" r="7.0" fill="#e6e6e6" stroke="#1a1a1a" stroke-width="1.1"/>
<circle cx="775.30" cy="1640.10" r="7.0" fill="#e6e6e6" stroke="#1a1a1a" stroke-width="1.1"/>
<circle cx="764.10" cy="1642.00" r="7.0" fill="#e6e6e6" stroke="#1a1a1a" stroke-width="1.1"/>
<circle cx="770.70" cy="1646.00" r="7.0" fill="#e6e6e6" stroke="#1a1a1a" stroke-width="1.1"/>
<circle cx="769.40" cy="1661.80" r="7.0" fill="#e6e6e6" stroke="#1a1a1a" stroke-width="1.1"/>
<circle cx="764.10" cy="1676.20" r="7.0" fill="#e6e6e6" stroke="#1a1a1a" stroke-width="1.1"/>
<circle cx="774.60" cy="1676.20" r="7.0" fill="#e6e6e6" stroke="#1a1a1a" stroke-width="1.1"/>
<circle cx="823.40" cy="1482.90" r="7.0" fill="#9999ff" stroke="#20204a" stroke-width="1.1"/>
<circle cx="823.40" cy="1503.90" r="7.0" fill="#9999ff" stroke="#20204a" stroke-width="1.1"/>
<circle cx="821.30" cy="1525.00" r="7.0" fill="#9999ff" stroke="#20204a" stroke-width="1.1"/>
<circle cx="827.20" cy="1524.30" r="7.0" fill="#9999ff" stroke="#20204a" stroke-width="1.1"/>
<circle cx="821.30" cy="1536.80" r="7.0" fill="#9999ff" stroke="#20204a" stroke-width="1.1"/>
<circle cx="827.20" cy="1538.10" r="7.0" fill="#9999ff" stroke="#20204a" stroke-width="1.1"/>
<circle cx="824.00" cy="1545.00" r="7.0" fill="#9999ff" stroke="#20204a" stroke-width="1.1"/>
<circle cx="822.00" cy="1555.20" r="7.0" fill="#9999ff" stroke="#20204a" stroke-width="1.1"/>
<circle cx="826.60" cy="1555.20" r="7.0" fill="#9999ff" stroke="#20204a" stroke-width="1.1"/>
<circle cx="823.00" cy="1560.00" r="7.0" fill="#9999ff" stroke="#20204a" stroke-width="1.1"/>
<circle cx="822.60" cy="1567.00" r="7.0" fill="#9999ff" stroke="#20204a" stroke-width="1.1"/>
<circle cx="825.00" cy="1572.00" r="7.0" fill="#9999ff" stroke="#20204a" stroke-width="1.1"/>
<circle cx="821.30" cy="1578.20" r="7.0" fill="#9999ff" stroke="#20204a" stroke-width="1.1"/>
<circle cx="826.60" cy="1579.50" r="7.0" fill="#9999ff" stroke="#20204a" stroke-width="1.1"/>
<circle cx="825.90" cy="1585.40" r="7.0" fill="#9999ff" stroke="#20204a" stroke-width="1.1"/>
<circle cx="823.00" cy="1590.00" r="7.0" fill="#9999ff" stroke="#20204a" stroke-width="1.1"/>
<circle cx="822.00" cy="1592.00" r="7.0" fill="#9999ff" stroke="#20204a" stroke-width="1.1"/>
<circle cx="824.10" cy="1597.30" r="7.0" fill="#9999ff" stroke="#20204a" stroke-width="1.1"/>
<circle cx="822.00" cy="1605.00" r="7.0" fill="#9999ff" stroke="#20204a" stroke-width="1.1"/>
<circle cx="827.20" cy="1613.10" r="7.0" fill="#9999ff" stroke="#20204a" stroke-width="1.1"/>
<circle cx="821.30" cy="1615.70" r="7.0" fill="#9999ff" stroke="#20204a" stroke-width="1.1"/>
<circle cx="904.50" cy="1620.00" r="7.0" fill="#e6e6e6" stroke="#1a1a1a" stroke-width="1.1"/>
<circle cx="917.00" cy="1633.00" r="7.0" fill="#e6e6e6" stroke="#1a1a1a" stroke-width="1.1"/>
<circle cx="913.00" cy="1651.00" r="7.0" fill="#e6e6e6" stroke="#1a1a1a" stroke-width="1.1"/>
<circle cx="914.00" cy="1656.00" r="7.0" fill="#e6e6e6" stroke="#1a1a1a" stroke-width="1.1"/>
<circle cx="908.20" cy="1617.80" r="7.0" fill="#e6e6e6" stroke="#1a1a1a" stroke-width="1.1"/>
<circle cx="918.10" cy="1614.50" r="7.0" fill="#e6e6e6" stroke="#1a1a1a" stroke-width="1.1"/>
<circle cx="917.40" cy="1620.00" r="7.0" fill="#e6e6e6" stroke="#1a1a1a" stroke-width="1.1"/>
<circle cx="908.20" cy="1626.50" r="7.0" fill="#e6e6e6" stroke="#1a1a1a" stroke-width="1.1"/>
<circle cx="912.60" cy="1637.50" r="7.0" fill="#e6e6e6" stroke="#1a1a1a" stroke-width="1.1"/>
<circle cx="919.20" cy="1635.30" r="7.0" fill="#e6e6e6" stroke="#1a1a1a" stroke-width="1.1"/>
<circle cx="912.60" cy="1648.40" r="7.0" fill="#e6e6e6" stroke="#1a1a1a" stroke-width="1.1"/>
<circle cx="913.70" cy="1655.00" r="7.0" fill="#e6e6e6" stroke="#1a1a1a" stroke-width="1.1"/>
<circle cx="966.00" cy="1628.00" r="7.0" fill="#9999ff" stroke="#20204a" stroke-width="1.1"/>
<circle cx="970.00" cy="1645.00" r="7.0" fill="#9999ff" stroke="#20204a" stroke-width="1.1"/>
<circle cx="968.00" cy="1654.00" r="7.0" fill="#9999ff" stroke="#20204a" stroke-width="1.1"/>
<circle cx="964.80" cy="1620.00" r="7.0" fill="#9999ff" stroke="#20204a" stroke-width="1.1"/>
<circle cx="970.70" cy="1624.40" r="7.0" fill="#9999ff" stroke="#20204a" stroke-width="1.1"/>
<circle cx="967.40" cy="1633.10" r="7.0" fill="#9999ff" stroke="#20204a" stroke-width="1.1"/>
<circle cx="969.60" cy="1638.60" r="7.0" fill="#9999ff" stroke="#20204a" stroke-width="1.1"/>
<circle cx="966.90" cy="1650.60" r="7.0" fill="#9999ff" stroke="#20204a" stroke-width="1.1"/>
<circle cx="967.80" cy="1658.30" r="7.0" fill="#9999ff" stroke="#20204a" stroke-width="1.1"/>
<circle cx="1021.50" cy="1375.20" r="7.0" fill="#e6e6e6" stroke="#1a1a1a" stroke-width="1.1"/>
<circle cx="1021.50" cy="1498.60" r="7.0" fill="#e6e6e6" stroke="#1a1a1a" stroke-width="1.1"/>
<circle cx="1021.50" cy="1542.30" r="7.0" fill="#e6e6e6" stroke="#1a1a1a" stroke-width="1.1"/>
<circle cx="1016.40" cy="1554.30" r="7.0" fill="#e6e6e6" stroke="#1a1a1a" stroke-width="1.1"/>
<circle cx="1026.50" cy="1554.30" r="7.0" fill="#e6e6e6" stroke="#1a1a1a" stroke-width="1.1"/>
<circle cx="1025.30" cy="1558.70" r="7.0" fill="#e6e6e6" stroke="#1a1a1a" stroke-width="1.1"/>
<circle cx="1019.60" cy="1563.10" r="7.0" fill="#e6e6e6" stroke="#1a1a1a" stroke-width="1.1"/>
<circle cx="1020.90" cy="1570.70" r="7.0" fill="#e6e6e6" stroke="#1a1a1a" stroke-width="1.1"/>
<circle cx="1023.40" cy="1575.70" r="7.0" fill="#e6e6e6" stroke="#1a1a1a" stroke-width="1.1"/>
<circle cx="1016.40" cy="1580.70" r="7.0" fill="#e6e6e6" stroke="#1a1a1a" stroke-width="1.1"/>
<circle cx="1025.30" cy="1587.00" r="7.0" fill="#e6e6e6" stroke="#1a1a1a" stroke-width="1.1"/>
<circle cx="1019.00" cy="1592.00" r="7.0" fill="#e6e6e6" stroke="#1a1a1a" stroke-width="1.1"/>
<circle cx="1026.50" cy="1596.50" r="7.0" fill="#e6e6e6" stroke="#1a1a1a" stroke-width="1.1"/>
<circle cx="1016.40" cy="1604.00" r="7.0" fill="#e6e6e6" stroke="#1a1a1a" stroke-width="1.1"/>
<circle cx="1024.60" cy="1606.00" r="7.0" fill="#e6e6e6" stroke="#1a1a1a" stroke-width="1.1"/>
<circle cx="1020.90" cy="1608.50" r="7.0" fill="#e6e6e6" stroke="#1a1a1a" stroke-width="1.1"/>
<circle cx="1023.40" cy="1613.50" r="7.0" fill="#e6e6e6" stroke="#1a1a1a" stroke-width="1.1"/>
<circle cx="1020.90" cy="1617.30" r="7.0" fill="#e6e6e6" stroke="#1a1a1a" stroke-width="1.1"/>
<circle cx="1021.50" cy="1633.00" r="7.0" fill="#e6e6e6" stroke="#1a1a1a" stroke-width="1.1"/>
<circle cx="1016.40" cy="1665.80" r="7.0" fill="#e6e6e6" stroke="#1a1a1a" stroke-width="1.1"/>
<circle cx="1025.90" cy="1662.60" r="7.0" fill="#e6e6e6" stroke="#1a1a1a" stroke-width="1.1"/>
<circle cx="1075.20" cy="1338.80" r="7.0" fill="#9999ff" stroke="#20204a" stroke-width="1.1"/>
<circle cx="1072.50" cy="1515.30" r="7.0" fill="#9999ff" stroke="#20204a" stroke-width="1.1"/>
<circle cx="1079.40" cy="1519.70" r="7.0" fill="#9999ff" stroke="#20204a" stroke-width="1.1"/>
<circle cx="1075.60" cy="1531.00" r="7.0" fill="#9999ff" stroke="#20204a" stroke-width="1.1"/>
<circle cx="1075.00" cy="1535.40" r="7.0" fill="#9999ff" stroke="#20204a" stroke-width="1.1"/>
<circle cx="1072.50" cy="1539.20" r="7.0" fill="#9999ff" stroke="#20204a" stroke-width="1.1"/>
<circle cx="1078.20" cy="1543.00" r="7.0" fill="#9999ff" stroke="#20204a" stroke-width="1.1"/>
<circle cx="1073.10" cy="1548.60" r="7.0" fill="#9999ff" stroke="#20204a" stroke-width="1.1"/>
<circle cx="1076.90" cy="1553.70" r="7.0" fill="#9999ff" stroke="#20204a" stroke-width="1.1"/>
<circle cx="1076.90" cy="1558.10" r="7.0" fill="#9999ff" stroke="#20204a" stroke-width="1.1"/>
<circle cx="1072.50" cy="1565.60" r="7.0" fill="#9999ff" stroke="#20204a" stroke-width="1.1"/>
<circle cx="1077.50" cy="1568.80" r="7.0" fill="#9999ff" stroke="#20204a" stroke-width="1.1"/>
<circle cx="1074.40" cy="1573.20" r="7.0" fill="#9999ff" stroke="#20204a" stroke-width="1.1"/>
<circle cx="1075.60" cy="1579.50" r="7.0" fill="#9999ff" stroke="#20204a" stroke-width="1.1"/>
<circle cx="1075.60" cy="1584.50" r="7.0" fill="#9999ff" stroke="#20204a" stroke-width="1.1"/>
<circle cx="1076.90" cy="1589.60" r="7.0" fill="#9999ff" stroke="#20204a" stroke-width="1.1"/>
<circle cx="1078.20" cy="1600.30" r="7.0" fill="#9999ff" stroke="#20204a" stroke-width="1.1"/>
<circle cx="1071.90" cy="1604.00" r="7.0" fill="#9999ff" stroke="#20204a" stroke-width="1.1"/>
<circle cx="1074.40" cy="1613.50" r="7.0" fill="#9999ff" stroke="#20204a" stroke-width="1.1"/>
<circle cx="1073.10" cy="1619.20" r="7.0" fill="#9999ff" stroke="#20204a" stroke-width="1.1"/>
<circle cx="1077.50" cy="1624.20" r="7.0" fill="#9999ff" stroke="#20204a" stroke-width="1.1"/>
<circle cx="1074.40" cy="1629.90" r="7.0" fill="#9999ff" stroke="#20204a" stroke-width="1.1"/>
<circle cx="1076.90" cy="1633.60" r="7.0" fill="#9999ff" stroke="#20204a" stroke-width="1.1"/>
<circle cx="1075.60" cy="1639.90" r="7.0" fill="#9999ff" stroke="#20204a" stroke-width="1.1"/>
<circle cx="1074.40" cy="1643.70" r="7.0" fill="#9999ff" stroke="#20204a" stroke-width="1.1"/>
<circle cx="1075.60" cy="1649.40" r="7.0" fill="#9999ff" stroke="#20204a" stroke-width="1.1"/>
<circle cx="1129.10" cy="1451.70" r="7.0" fill="#e6e6e6" stroke="#1a1a1a" stroke-width="1.1"/>
<circle cx="1124.80" cy="1540.20" r="7.0" fill="#e6e6e6" stroke="#1a1a1a" stroke-width="1.1"/>
<circle cx="1133.60" cy="1554.30" r="7.0" fill="#e6e6e6" stroke="#1a1a1a" stroke-width="1.1"/>
<circle cx="1128.50" cy="1555.60" r="7.0" fill="#e6e6e6" stroke="#1a1a1a" stroke-width="1.1"/>
<circle cx="1124.10" cy="1570.70" r="7.0" fill="#e6e6e6" stroke="#1a1a1a" stroke-width="1.1"/>
<circle cx="1133.60" cy="1573.80" r="7.0" fill="#e6e6e6" stroke="#1a1a1a" stroke-width="1.1"/>
<circle cx="1129.20" cy="1580.80" r="7.0" fill="#e6e6e6" stroke="#1a1a1a" stroke-width="1.1"/>
<circle cx="1123.50" cy="1589.60" r="7.0" fill="#e6e6e6" stroke="#1a1a1a" stroke-width="1.1"/>
<circle cx="1133.60" cy="1594.00" r="7.0" fill="#e6e6e6" stroke="#1a1a1a" stroke-width="1.1"/>
<circle cx="1128.50" cy="1604.70" r="7.0" fill="#e6e6e6" stroke="#1a1a1a" stroke-width="1.1"/>
<circle cx="1133.60" cy="1607.20" r="7.0" fill="#e6e6e6" stroke="#1a1a1a" stroke-width="1.1"/>
<circle cx="1123.50" cy="1609.70" r="7.0" fill="#e6e6e6" stroke="#1a1a1a" stroke-width="1.1"/>
<circle cx="1131.70" cy="1616.00" r="7.0" fill="#e6e6e6" stroke="#1a1a1a" stroke-width="1.1"/>
<circle cx="1126.60" cy="1621.10" r="7.0" fill="#e6e6e6" stroke="#1a1a1a" stroke-width="1.1"/>
<circle cx="1127.90" cy="1627.30" r="7.0" fill="#e6e6e6" stroke="#1a1a1a" stroke-width="1.1"/>
<circle cx="1123.50" cy="1634.30" r="7.0" fill="#e6e6e6" stroke="#1a1a1a" stroke-width="1.1"/>
<circle cx="1133.60" cy="1636.20" r="7.0" fill="#e6e6e6" stroke="#1a1a1a" stroke-width="1.1"/>
<circle cx="1126.60" cy="1638.70" r="7.0" fill="#e6e6e6" stroke="#1a1a1a" stroke-width="1.1"/>
<circle cx="1128.50" cy="1646.20" r="7.0" fill="#e6e6e6" stroke="#1a1a1a" stroke-width="1.1"/>
<circle cx="1129.80" cy="1653.20" r="7.0" fill="#e6e6e6" stroke="#1a1a1a" stroke-width="1.1"/>
<circle cx="1178.90" cy="1487.60" r="7.0" fill="#9999ff" stroke="#20204a" stroke-width="1.1"/>
<circle cx="1185.80" cy="1490.10" r="7.0" fill="#9999ff" stroke="#20204a" stroke-width="1.1"/>
<circle cx="1182.10" cy="1493.90" r="7.0" fill="#9999ff" stroke="#20204a" stroke-width="1.1"/>
<circle cx="1179.50" cy="1510.90" r="7.0" fill="#9999ff" stroke="#20204a" stroke-width="1.1"/>
<circle cx="1185.80" cy="1510.20" r="7.0" fill="#9999ff" stroke="#20204a" stroke-width="1.1"/>
<circle cx="1182.10" cy="1520.30" r="7.0" fill="#9999ff" stroke="#20204a" stroke-width="1.1"/>
<circle cx="1179.50" cy="1527.20" r="7.0" fill="#9999ff" stroke="#20204a" stroke-width="1.1"/>
<circle cx="1185.80" cy="1527.90" r="7.0" fill="#9999ff" stroke="#20204a" stroke-width="1.1"/>
<circle cx="1183.90" cy="1534.20" r="7.0" fill="#9999ff" stroke="#20204a" stroke-width="1.1"/>
<circle cx="1183.30" cy="1539.20" r="7.0" fill="#9999ff" stroke="#20204a" stroke-width="1.1"/>
<circle cx="1182.70" cy="1545.50" r="7.0" fill="#9999ff" stroke="#20204a" stroke-width="1.1"/>
<circle cx="1182.10" cy="1554.30" r="7.0" fill="#9999ff" stroke="#20204a" stroke-width="1.1"/>
<circle cx="1182.70" cy="1560.60" r="7.0" fill="#9999ff" stroke="#20204a" stroke-width="1.1"/>
<circle cx="1182.70" cy="1570.00" r="7.0" fill="#9999ff" stroke="#20204a" stroke-width="1.1"/>
<circle cx="1180.80" cy="1583.30" r="7.0" fill="#9999ff" stroke="#20204a" stroke-width="1.1"/>
<circle cx="1187.70" cy="1587.70" r="7.0" fill="#9999ff" stroke="#20204a" stroke-width="1.1"/>
<circle cx="1184.60" cy="1593.30" r="7.0" fill="#9999ff" stroke="#20204a" stroke-width="1.1"/>
<circle cx="1180.80" cy="1599.00" r="7.0" fill="#9999ff" stroke="#20204a" stroke-width="1.1"/>
<circle cx="1185.80" cy="1605.90" r="7.0" fill="#9999ff" stroke="#20204a" stroke-width="1.1"/>
<circle cx="1184.60" cy="1612.20" r="7.0" fill="#9999ff" stroke="#20204a" stroke-width="1.1"/>
<circle cx="1180.20" cy="1618.50" r="7.0" fill="#9999ff" stroke="#20204a" stroke-width="1.1"/>
<circle cx="1183.90" cy="1619.20" r="7.0" fill="#9999ff" stroke="#20204a" stroke-width="1.1"/>
<circle cx="1182.70" cy="1643.70" r="7.0" fill="#9999ff" stroke="#20204a" stroke-width="1.1"/>
<line x1="176.10" y1="1654.00" x2="215.10" y2="1654.00" stroke="#0000f0" stroke-width="3.5" stroke-linecap="butt"/>
<line x1="230.00" y1="1659.10" x2="268.90" y2="1659.10" stroke="#0000f0" stroke-width="3.5" stroke-linecap="butt"/>
<line x1="284.10" y1="1573.80" x2="322.90" y2="1573.80" stroke="#0000f0" stroke-width="3.5" stroke-linecap="butt"/>
<line x1="337.30" y1="1602.00" x2="376.50" y2="1602.00" stroke="#0000f0" stroke-width="3.5" stroke-linecap="butt"/>
<line x1="391.40" y1="1621.60" x2="430.30" y2="1621.60" stroke="#0000f0" stroke-width="3.5" stroke-linecap="butt"/>
<line x1="445.10" y1="1576.60" x2="484.00" y2="1576.60" stroke="#0000f0" stroke-width="3.5" stroke-linecap="butt"/>
<line x1="535.10" y1="1659.40" x2="574.50" y2="1659.40" stroke="#0000f0" stroke-width="3.5" stroke-linecap="butt"/>
<line x1="589.10" y1="1653.90" x2="627.80" y2="1653.90" stroke="#0000f0" stroke-width="3.5" stroke-linecap="butt"/>
<line x1="642.90" y1="1579.40" x2="681.80" y2="1579.40" stroke="#0000f0" stroke-width="3.5" stroke-linecap="butt"/>
<line x1="696.40" y1="1563.20" x2="735.50" y2="1563.20" stroke="#0000f0" stroke-width="3.5" stroke-linecap="butt"/>
<line x1="750.40" y1="1628.20" x2="789.60" y2="1628.20" stroke="#0000f0" stroke-width="3.5" stroke-linecap="butt"/>
<line x1="804.10" y1="1560.80" x2="843.00" y2="1560.80" stroke="#0000f0" stroke-width="3.5" stroke-linecap="butt"/>
<line x1="894.60" y1="1638.60" x2="933.40" y2="1638.60" stroke="#0000f0" stroke-width="3.5" stroke-linecap="butt"/>
<line x1="948.30" y1="1638.20" x2="987.10" y2="1638.20" stroke="#0000f0" stroke-width="3.5" stroke-linecap="butt"/>
<line x1="1002.00" y1="1577.90" x2="1041.00" y2="1577.90" stroke="#0000f0" stroke-width="3.5" stroke-linecap="butt"/>
<line x1="1055.70" y1="1578.80" x2="1094.90" y2="1578.80" stroke="#0000f0" stroke-width="3.5" stroke-linecap="butt"/>
<line x1="1109.80" y1="1609.70" x2="1148.80" y2="1609.70" stroke="#0000f0" stroke-width="3.5" stroke-linecap="butt"/>
<line x1="1163.50" y1="1553.60" x2="1202.30" y2="1553.60" stroke="#0000f0" stroke-width="3.5" stroke-linecap="butt"/>
<text transform="translate(1558.70,1229.30) scale(1,1.04)" font-size="40.5" text-anchor="middle" fill="#333">NSCLC</text>
<text x="1558.50" y="1274.00" font-size="41" text-anchor="middle" fill="#333">patient</text>
<line x1="1559.60" y1="1287.10" x2="1505.50" y2="1335.20" stroke="#000" stroke-width="2.0" stroke-linecap="butt"/>
<line x1="1559.60" y1="1287.10" x2="1614.80" y2="1335.20" stroke="#000" stroke-width="2.0" stroke-linecap="butt"/>
<polygon points="1490.30,1348.60 1500.45,1326.89 1504.88,1335.66 1513.06,1341.10" fill="#000"/>
<polygon points="1630.00,1348.60 1607.18,1341.28 1615.31,1335.77 1619.68,1326.97" fill="#000"/>
<text transform="translate(1386.30,1390.60) scale(1,1.04)" font-size="40.5" text-anchor="start" fill="#333">CDCA3</text>
<text x="1523.70" y="1370.70" font-size="19.7" text-anchor="start" fill="#333">low</text>
<text transform="translate(1573.30,1390.60) scale(1,1.04)" font-size="40.5" text-anchor="start" fill="#333">CDCA3</text>
<text x="1709.50" y="1370.70" font-size="19.7" text-anchor="start" fill="#333">high</text>
<line x1="1458.10" y1="1402.30" x2="1458.10" y2="1480.00" stroke="#000" stroke-width="2.0" stroke-linecap="butt"/>
<polygon points="1458.10,1497.80 1448.60,1476.30 1458.10,1478.80 1467.60,1476.30" fill="#000"/>
<ellipse cx="1458.4" cy="1440.4" rx="39.6" ry="20.4" fill="#f96500"/>
<text x="1459.80" y="1449.80" font-size="27" text-anchor="middle" font-weight="bold" fill="#fff">CK2</text>
<line x1="1644.60" y1="1402.30" x2="1644.60" y2="1480.00" stroke="#000" stroke-width="2.0" stroke-linecap="butt"/>
<polygon points="1644.60,1497.80 1635.10,1476.30 1644.60,1478.80 1654.10,1476.30" fill="#000"/>
<text x="1458.70" y="1535.70" font-size="38" text-anchor="middle" fill="#333">Platinum</text>
<text x="1458.30" y="1563.50" font-size="27.5" text-anchor="middle" font-weight="bold" fill="#333">+</text>
<text transform="translate(1454.40,1597.20) scale(1,1.04)" font-size="33.5" text-anchor="middle" fill="#333">CX-4945</text>
<text x="1644.00" y="1535.70" font-size="37.5" text-anchor="middle" fill="#333">Platinum</text>
<path d="M1380.6,1584.9 A77.2,77.2 0 0 1 1405.6,1440.8" fill="none" stroke="#ee1111" stroke-width="2.9"/>
<line x1="1402.50" y1="1432.60" x2="1408.70" y2="1448.90" stroke="#ee1111" stroke-width="3.0" stroke-linecap="butt"/>
<line x1="1637.60" y1="1560.10" x2="1560.20" y2="1634.80" stroke="#000" stroke-width="2.0" stroke-linecap="butt"/>
<line x1="1537.50" y1="1615.50" x2="1560.20" y2="1634.80" stroke="#000" stroke-width="2.0" stroke-linecap="butt"/>
<polygon points="1560.20,1657.10 1550.70,1635.60 1560.20,1638.10 1569.70,1635.60" fill="#000"/>
<text x="1560.10" y="1690.60" font-size="37.3" text-anchor="middle" fill="#333">Sensitivity to</text>
<text x="1560.00" y="1732.30" font-size="36.6" text-anchor="middle" fill="#333">therapy</text>
</svg>
</body></html>
